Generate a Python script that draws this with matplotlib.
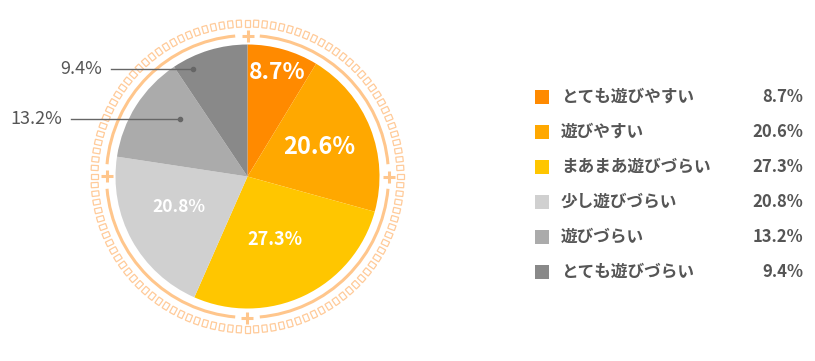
import numpy as np
import matplotlib
matplotlib.use("Agg")
import matplotlib.pyplot as plt
from matplotlib.patches import Rectangle, Arc

plt.rcParams['font.family'] = ['Noto Sans CJK JP', 'DejaVu Sans']

# データ
categories = ['とても遊びやすい', '遊びやすい', 'まあまあ遊びづらい',
              '少し遊びづらい', '遊びづらい', 'とても遊びづらい']
values = [8.7, 20.6, 27.3, 20.8, 13.2, 9.4]
colors = ['#FF8A00', '#FFA800', '#FFC600', '#D0D0D0', '#ABABAB', '#898989']

# ラベルの見た目 (半径の割合, 角度のずれ, 文字サイズ, 内側か)
label_r = [0.82, 0.59, 0.52, 0.57, 0.67, 0.91]
label_da = [0, 0.5, -2, -5, -8, 10]
label_size = [16.5, 17, 13, 12.5, 13, 13]
label_inside = [True, True, True, True, False, False]
leader_len = [0, 0, 0, 0, 109, 82]

W, H = 815, 361
cx, cy, R = 247.5, H - 176.5, 132
ring_col = '#FFC68C'
sq_col = '#FFCB9A'
txt_col = '#555555'

fig = plt.figure(figsize=(W / 100, H / 100), dpi=100)
ax = fig.add_axes([0, 0, 1, 1])

wedges, _ = ax.pie(values, colors=colors, startangle=90, counterclock=False,
                   center=(cx, cy), radius=R, wedgeprops=dict(linewidth=0))

# 外側のリング (十字の所は切れている)
r_ring = 141
gap = 5
for a in [0, 90, 180, 270]:
    ax.add_patch(Arc((cx, cy), 2 * r_ring, 2 * r_ring, theta1=a + gap, theta2=a + 90 - gap,
                     color=ring_col, lw=2.2))
    ux, uy = np.cos(np.radians(a)), np.sin(np.radians(a))
    px, py = cx + r_ring * ux, cy + r_ring * uy
    ax.plot([px - 6, px + 6], [py, py], color=ring_col, lw=2.2, solid_capstyle='butt')
    ax.plot([px, px], [py - 6, py + 6], color=ring_col, lw=2.2, solid_capstyle='butt')

# 小さな四角の輪
n_sq = 112
r_sq = 153
for th in np.linspace(0, 360, n_sq, endpoint=False):
    t = np.radians(th)
    sx, sy = cx + r_sq * np.cos(t), cy + r_sq * np.sin(t)
    ax.add_patch(Rectangle((sx - 2.5, sy - 3.5), 5, 7, angle=th + 90, rotation_point='center',
                           facecolor='none', edgecolor=sq_col, lw=0.9))

# パーセントラベル
for i, w in enumerate(wedges):
    mid = (w.theta1 + w.theta2) / 2 + label_da[i]
    t = np.radians(mid)
    lx, ly = cx + R * label_r[i] * np.cos(t), cy + R * label_r[i] * np.sin(t)
    s = f'{values[i]}%'
    if label_inside[i]:
        ax.text(lx, ly, s, color='white', fontsize=label_size[i], fontweight='bold',
                ha='center', va='center')
    else:
        ax.plot([lx - leader_len[i], lx], [ly, ly], color='#666666', lw=1)
        ax.plot(lx, ly, 'o', color='#666666', ms=3)
        ax.text(lx - leader_len[i] - 9, ly, s, color=txt_col, fontsize=label_size[i],
                ha='right', va='center')

# 凡例
for i, (c, v, col) in enumerate(zip(categories, values, colors)):
    y = H - (97 + 35 * i)
    ax.add_patch(Rectangle((535, y - 7), 14, 14, facecolor=col, edgecolor='none'))
    ax.text(561, y, c, color=txt_col, fontsize=12, fontweight='bold', ha='left', va='center')
    ax.text(803, y, f'{v}%', color=txt_col, fontsize=12, fontweight='bold',
            ha='right', va='center')

ax.set_xlim(0, W)
ax.set_ylim(0, H)
ax.set_aspect('equal')
ax.axis('off')

fig.savefig('out.png', dpi=100)
